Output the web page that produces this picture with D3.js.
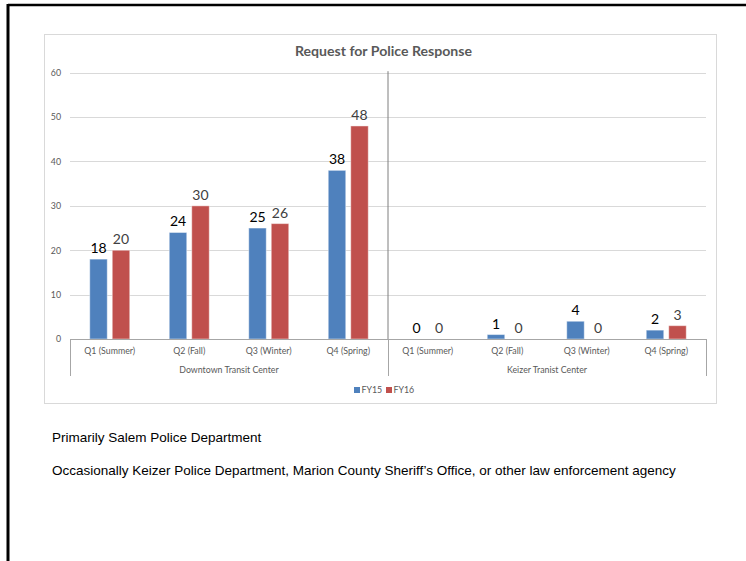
<!DOCTYPE html>
<html>
<head>
<meta charset="utf-8">
<script src="https://cdn.jsdelivr.net/npm/d3@7"></script>
<style>
  html, body { margin: 0; padding: 0; background: #fff; }
  svg { display: block; }
</style>
</head>
<body>
<svg id="page" width="746" height="561"></svg>
<script>
// Chart data
const quarters = ["Q1 (Summer)", "Q2 (Fall)", "Q3 (Winter)", "Q4 (Spring)"];
const sites = ["Downtown Transit Center", "Keizer Tranist Center"];
const seriesNames = ["FY15", "FY16"];
const fy15 = [18, 24, 25, 38, 0, 1, 4, 2];
const fy16 = [20, 30, 26, 48, 0, 0, 0, 3];
const yTicks = [0, 10, 20, 30, 40, 50, 60];
const titleText = "Request for Police Response";
const notes = [
  "Primarily Salem Police Department",
  "Occasionally Keizer Police Department, Marion County Sheriff\u2019s Office, or other law enforcement agency"
];

const colors = { FY15: "#4F81BD", FY16: "#C0504D" };
const labelColors = { FY15: "#000000", FY16: "#404040" };
const chartFont = "Lato, 'Open Sans', sans-serif";
const smallSize = "8.8px";

// one row per (site, quarter)
const rows = [];
sites.forEach((s, si) => quarters.forEach((q, qi) => {
  const i = si * quarters.length + qi;
  rows.push({ key: s + "|" + q, site: s, quarter: q, FY15: fy15[i], FY16: fy16[i] });
}));

const svg = d3.select("#page");

// page frame (top and left rules)
svg.append("line").attr("x1", 8).attr("x2", 746).attr("y1", 5).attr("y2", 5)
  .attr("stroke", "#000").attr("stroke-width", 2.5);
svg.append("line").attr("x1", 8).attr("x2", 8).attr("y1", 4).attr("y2", 561)
  .attr("stroke", "#000").attr("stroke-width", 3);

// chart box
svg.append("rect").attr("x", 44.5).attr("y", 34.5).attr("width", 672).attr("height", 369)
  .attr("fill", "#fff").attr("stroke", "#d9d9d9").attr("stroke-width", 1);

const plot = { left: 70, right: 706, top: 72.7, bottom: 339 };

const x = d3.scaleBand().domain(rows.map(d => d.key)).range([plot.left, plot.right]).padding(0);
const y = d3.scaleLinear().domain([0, 60]).range([plot.bottom, plot.top]);
const inner = d3.scaleBand().domain(seriesNames)
  .range([x.bandwidth() * 0.2484, x.bandwidth() * 0.7516]).paddingInner(0.222);

// gridlines
svg.append("g").selectAll("line").data(yTicks.filter(t => t > 0)).join("line")
  .attr("x1", plot.left).attr("x2", plot.right)
  .attr("y1", d => Math.round(y(d)) + 0.5).attr("y2", d => Math.round(y(d)) + 0.5)
  .attr("stroke", "#d9d9d9").attr("stroke-width", 1);

// y axis labels
const yAxis = d3.axisLeft(y).tickValues(yTicks).tickSize(0).tickPadding(9);
const gy = svg.append("g").attr("transform", `translate(${plot.left},0)`).call(yAxis);
gy.select(".domain").remove();
gy.selectAll("text").attr("fill", "#595959").style("font-family", chartFont).style("font-size", smallSize);

// bars
const groups = svg.append("g").selectAll("g").data(rows).join("g")
  .attr("transform", d => `translate(${x(d.key)},0)`);

groups.selectAll("rect").data(d => seriesNames.map(s => ({ s, v: d[s] }))).join("rect")
  .attr("x", d => inner(d.s))
  .attr("width", inner.bandwidth())
  .attr("y", d => y(d.v))
  .attr("height", d => y(0) - y(d.v))
  .attr("fill", d => colors[d.s])
  .attr("stroke", "rgba(255,255,255,0.45)")
  .attr("stroke-width", d => d.v > 0 ? 1 : 0);

// value labels
groups.selectAll("text").data(d => seriesNames.map(s => ({ s, v: d[s] }))).join("text")
  .attr("x", d => inner(d.s) + inner.bandwidth() / 2)
  .attr("y", d => y(d.v) - 6)
  .attr("text-anchor", "middle")
  .attr("fill", d => labelColors[d.s])
  .style("font-family", chartFont).style("font-size", "14px").style("font-weight", "400")
  .text(d => d.v);

// separator between sites inside the plot
const sepX = x(sites[1] + "|" + quarters[0]);
svg.append("line").attr("x1", sepX).attr("x2", sepX).attr("y1", plot.top - 1.5).attr("y2", plot.bottom)
  .attr("stroke", "#7f7f7f").attr("stroke-width", 1);

// category axis baseline
svg.append("line").attr("x1", plot.left).attr("x2", plot.right)
  .attr("y1", plot.bottom + 0.5).attr("y2", plot.bottom + 0.5)
  .attr("stroke", "#a6a6a6").attr("stroke-width", 1);

// site boundaries under the axis
const boundaries = [plot.left, sepX, plot.right];
svg.append("g").selectAll("line").data(boundaries).join("line")
  .attr("x1", d => Math.round(d) + 0.5).attr("x2", d => Math.round(d) + 0.5)
  .attr("y1", plot.bottom).attr("y2", 376)
  .attr("stroke", "#a6a6a6").attr("stroke-width", 1);

// quarter labels
svg.append("g").selectAll("text").data(rows).join("text")
  .attr("x", d => x(d.key) + x.bandwidth() / 2)
  .attr("y", 354)
  .attr("text-anchor", "middle")
  .attr("fill", "#595959")
  .style("font-family", chartFont).style("font-size", smallSize)
  .text(d => d.quarter);

// site labels
svg.append("g").selectAll("text").data(sites).join("text")
  .attr("x", (d, i) => (boundaries[i] + boundaries[i + 1]) / 2)
  .attr("y", 373)
  .attr("text-anchor", "middle")
  .attr("fill", "#595959")
  .style("font-family", chartFont).style("font-size", smallSize)
  .text(d => d);

// title
svg.append("text").attr("x", 383.5).attr("y", 56)
  .attr("text-anchor", "middle")
  .attr("fill", "#595959")
  .style("font-family", chartFont).style("font-size", "14.1px").style("font-weight", "bold")
  .text(titleText);

// legend
const legendX = [354, 386];
const lg = svg.append("g").selectAll("g").data(seriesNames).join("g")
  .attr("transform", (d, i) => `translate(${legendX[i]},387)`);
lg.append("rect").attr("width", 6).attr("height", 6).attr("fill", d => colors[d]);
lg.append("text").attr("x", 7.5).attr("y", 6.3)
  .attr("fill", "#595959")
  .style("font-family", chartFont).style("font-size", smallSize)
  .text(d => d);

// notes under the chart
svg.append("g").selectAll("text").data(notes).join("text")
  .attr("x", 52).attr("y", (d, i) => 442 + i * 33)
  .attr("fill", "#000")
  .style("font-family", "'Liberation Sans', Arial, sans-serif").style("font-size", "13.5px")
  .text(d => d);
</script>
</body>
</html>
